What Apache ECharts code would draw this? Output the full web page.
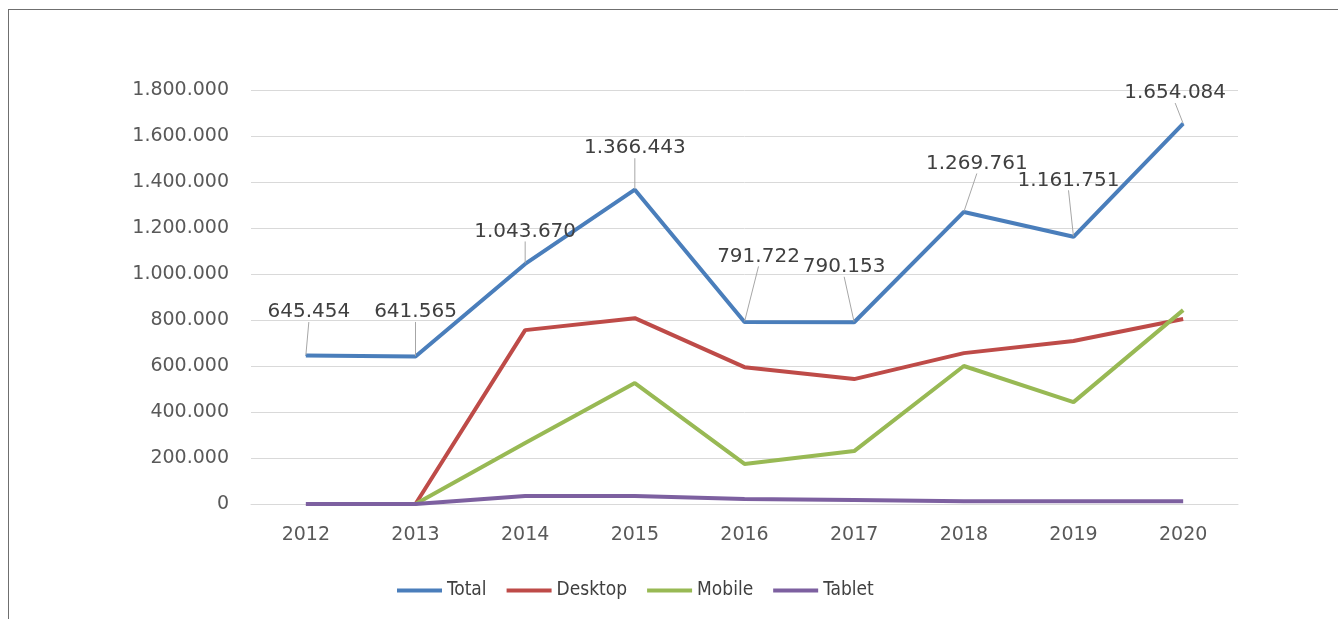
<!DOCTYPE html>
<html style="height: 100%">
   <head>
       <meta charset="utf-8">
       <script src="https://cdn.jsdelivr.net/npm/echarts@6/dist/echarts.min.js"></script>
   </head>
   <body style="height: 100%; margin: 0; background: #fff;">
        <style>
            #frame{
                position: absolute;
                left: 8px;
                top: 9px;
                width: 1330px;
                height: 610px;
                border-left: 1px solid #6f6f6f;
                border-top: 1px solid #6f6f6f;
                box-sizing: border-box;
            }
            #container{
                position: absolute;
                left: 0;
                top: 0;
                width: 1338px;
                height: 619px;
            }
        </style>
        <div id="frame"></div>
        <div id="container"></div>

        <script type="text/javascript">
            // 数据
            var years   = ['2012', '2013', '2014', '2015', '2016', '2017', '2018', '2019', '2020'];
            var total   = [645454, 641565, 1043670, 1366443, 791722, 790153, 1269761, 1161751, 1654084];
            var desktop = [null, 0, 756000, 808000, 595000, 543000, 656000, 709000, 804000];
            var mobile  = [null, 0, 265000, 526000, 174000, 230000, 600000, 443000, 843000];
            var tablet  = [0, 0, 35000, 35000, 22000, 17000, 12000, 12000, 12000];

            // 标签偏移 (Total)
            var labelDx = [3, 0, 0, 0, 14, -10, 13, -5, -8];
            var labelDy = [-28, -29, -17, -26, -50, -40, -33, -41, -15];

            function dots(v)
            {
                return String(v).replace(/\B(?=(\d{3})+(?!\d))/g, '.');
            }

            var myChart = echarts.init(document.getElementById('container'));

            var option = {
                animation: false,
                textStyle: { fontFamily: 'DejaVu Sans' },
                grid: { left: 251, right: 100, top: 90, bottom: 115 },
                legend: {
                    left: 392,
                    top: 576,
                    icon: 'rect',
                    itemWidth: 45,
                    itemHeight: 4,
                    itemGap: 20,
                    textStyle: {
                        fontFamily: "'Liberation Sans Narrow', 'DejaVu Sans Condensed', sans-serif",
                        fontSize: 19,
                        color: '#404040'
                    },
                    data: ['Total', 'Desktop', 'Mobile', 'Tablet']
                },
                xAxis: {
                    type: 'category',
                    data: years,
                    axisLine: { lineStyle: { color: '#d9d9d9', width: 1 } },
                    axisTick: { show: false },
                    axisLabel: { color: '#595959', fontSize: 19, margin: 22 }
                },
                yAxis: {
                    type: 'value',
                    min: 0,
                    max: 1800000,
                    interval: 200000,
                    axisLine: { show: false },
                    axisTick: { show: false },
                    splitLine: { lineStyle: { color: '#d9d9d9', width: 1 } },
                    axisLabel: {
                        color: '#595959',
                        fontSize: 19,
                        margin: 22,
                        formatter: function (v) { return dots(v); }
                    }
                },
                series: [
                    {
                        name: 'Total',
                        type: 'line',
                        data: total,
                        symbol: 'circle',
                        symbolSize: 1,
                        itemStyle: { color: '#4a7ebb' },
                        lineStyle: { width: 4, color: '#4a7ebb' },
                        z: 5,
                        label: {
                            show: true,
                            position: 'top',
                            distance: 5,
                            fontSize: 20,
                            color: '#404040',
                            formatter: function (p) { return dots(p.value); }
                        },
                        labelLine: {
                            show: true,
                            lineStyle: { color: '#a6a6a6', width: 1 }
                        },
                        labelLayout: function (p) {
                            return { dx: labelDx[p.dataIndex], dy: labelDy[p.dataIndex] };
                        }
                    },
                    {
                        name: 'Desktop',
                        type: 'line',
                        data: desktop,
                        showSymbol: false,
                        itemStyle: { color: '#be4b48' },
                        lineStyle: { width: 4, color: '#be4b48' }
                    },
                    {
                        name: 'Mobile',
                        type: 'line',
                        data: mobile,
                        showSymbol: false,
                        itemStyle: { color: '#98b954' },
                        lineStyle: { width: 4, color: '#98b954' }
                    },
                    {
                        name: 'Tablet',
                        type: 'line',
                        data: tablet,
                        showSymbol: false,
                        itemStyle: { color: '#7d60a0' },
                        lineStyle: { width: 4, color: '#7d60a0' }
                    }
                ]
            };

            myChart.setOption(option);
        </script>
   </body>
</html>
